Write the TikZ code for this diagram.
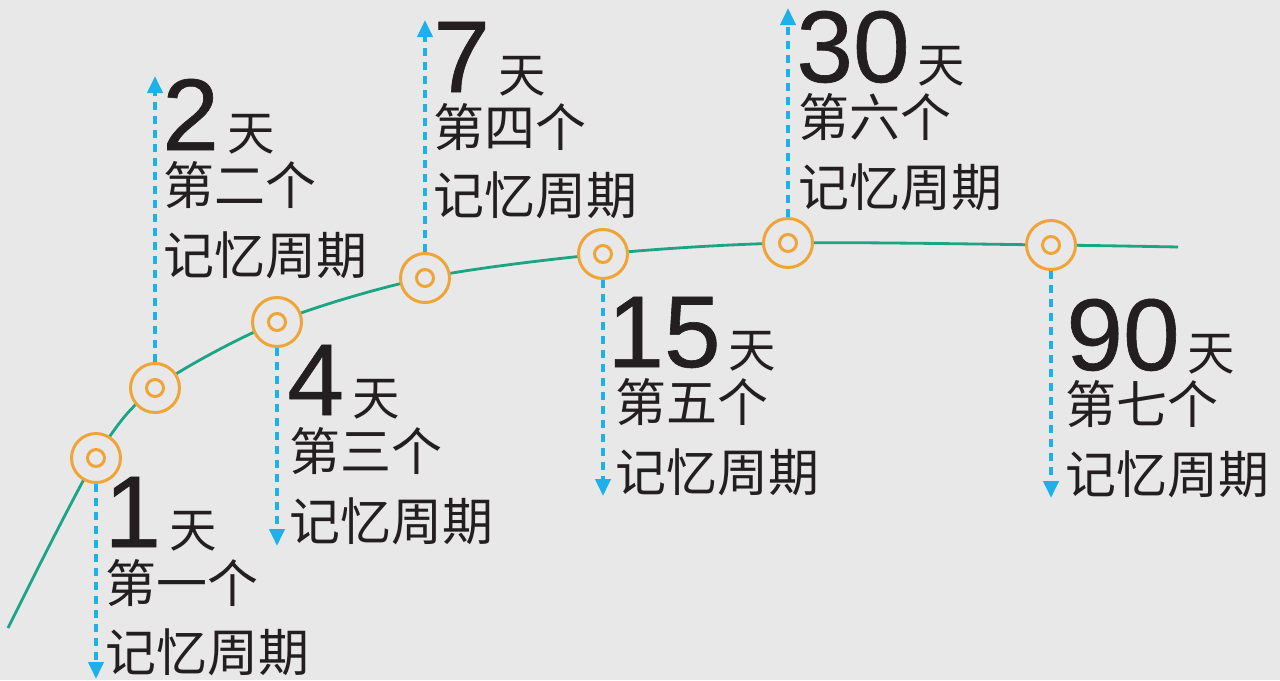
\documentclass[tikz,border=0pt]{standalone}
\usepackage{fontspec}
\setmainfont{Liberation Sans}
\newfontfamily\numfont{Liberation Sans}[FakeBold=0.6]
\newfontfamily\cjk{Noto Sans CJK SC}
\usetikzlibrary{arrows.meta}

\definecolor{bggray}{HTML}{E8E8E8}
\definecolor{curvegreen}{HTML}{1BA585}
\definecolor{ringorange}{HTML}{EEA437}
\definecolor{arrowblue}{HTML}{1EB0E8}
\definecolor{inkblack}{HTML}{231F20}

\newcommand{\tian}{\hspace{0.16cm}{\cjk\fontsize{27}{30}\selectfont 天}}

\tikzset{
  curve/.style={draw=curvegreen, line width=1.6pt},
  ring/.style={circle, draw=ringorange, fill=bggray, line width=1.7pt,
    minimum size=0.98cm, inner sep=0pt,
    path picture={\draw[ringorange, line width=1.7pt]
      (path picture bounding box.center) circle (0.17cm);}},
  memarrow/.style={draw=arrowblue, line width=2.2pt,
    dash pattern=on 0.17cm off 0.11cm,
    -{Triangle[length=0.34cm, width=0.3cm]}},
  daynum/.style={anchor=base west, inner sep=0pt, text=inkblack,
    text depth=0pt, font=\numfont\fontsize{58}{60}\selectfont},
  cycle/.style={anchor=base west, inner sep=0pt, text=inkblack,
    font=\cjk\fontsize{29}{32}\selectfont}
}

\begin{document}
\begin{tikzpicture}[x=0.02cm, y=-0.02cm]
  \fill[bggray] (0,0) rectangle (1280,680);
  \useasboundingbox (0,0) rectangle (1280,680);

  % forgetting curve
  \coordinate (c0) at (8,628);
  \coordinate (p1) at (96,458);
  \coordinate (p2) at (155,388);
  \coordinate (p3) at (277,322);
  \coordinate (p4) at (425,278);
  \coordinate (p5) at (603,254);
  \coordinate (p6) at (788,243);
  \coordinate (p7) at (1051,245);
  \coordinate (c8) at (1178,247);
  \draw[curve] plot[smooth] coordinates {(c0) (p1) (p2) (p3) (p4) (p5) (p6) (p7) (c8)};

  \node[ring] (r1) at (p1) {};
  \node[ring] (r2) at (p2) {};
  \node[ring] (r3) at (p3) {};
  \node[ring] (r4) at (p4) {};
  \node[ring] (r5) at (p5) {};
  \node[ring] (r6) at (p6) {};
  \node[ring] (r7) at (p7) {};

  \coordinate (t1) at (96,679);
  \coordinate (t2) at (155,76);
  \coordinate (t3) at (277,546);
  \coordinate (t4) at (425,20);
  \coordinate (t5) at (603,496);
  \coordinate (t6) at (788,8);
  \coordinate (t7) at (1051,498);
  \draw[memarrow] (r1.south) -- (t1);
  \draw[memarrow] (r2.north) -- (t2);
  \draw[memarrow] (r3.south) -- (t3);
  \draw[memarrow] (r4.north) -- (t4);
  \draw[memarrow] (r5.south) -- (t5);
  \draw[memarrow] (r6.north) -- (t6);
  \draw[memarrow] (r7.south) -- (t7);

  % labels
  \node[daynum] (d1) at (104,547) {1\tian};
  \node[cycle] (n1) at (105,602) {第一个};
  \node[cycle] (m1) at (105,671) {记忆周期};

  \node[daynum] (d2) at (162,150) {2\tian};
  \node[cycle] (n2) at (163,204) {第二个};
  \node[cycle] (m2) at (163,274) {记忆周期};

  \node[daynum] (d3) at (287,415) {4\tian};
  \node[cycle] (n3) at (289,470) {第三个};
  \node[cycle] (m3) at (289,540) {记忆周期};

  \node[daynum] (d4) at (433,92) {7\tian};
  \node[cycle] (n4) at (433,146) {第四个};
  \node[cycle] (m4) at (433,214) {记忆周期};

  \node[daynum] (d5) at (607,367) {15\tian};
  \node[cycle] (n5) at (615,421) {第五个};
  \node[cycle] (m5) at (615,491) {记忆周期};

  \node[daynum] (d6) at (796,82) {30\tian};
  \node[cycle] (n6) at (798,136) {第六个};
  \node[cycle] (m6) at (798,206) {记忆周期};

  \node[daynum] (d7) at (1066,370) {90\tian};
  \node[cycle] (n7) at (1065,423) {第七个};
  \node[cycle] (m7) at (1065,493) {记忆周期};
\end{tikzpicture}
\end{document}
